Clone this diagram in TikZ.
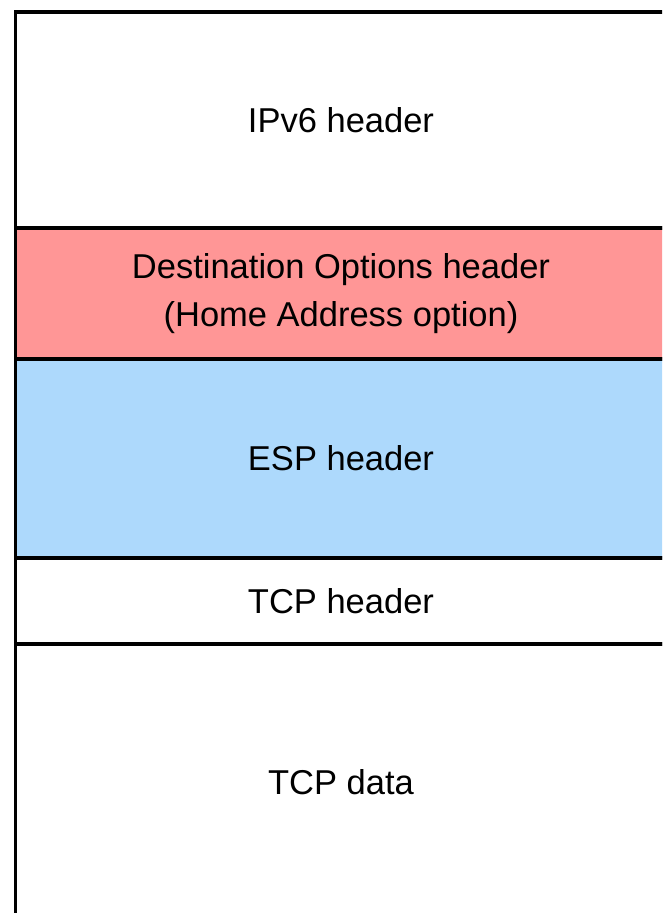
\documentclass[tikz,border=0pt]{standalone}
\usepackage{fontspec}
\setmainfont{Liberation Sans}
\usetikzlibrary{positioning}
\definecolor{dstc}{rgb}{1.0,0.59,0.59}
\definecolor{espc}{rgb}{0.68,0.85,0.99}

\begin{document}
\begin{tikzpicture}[x=1pt, y=1pt, node distance=0pt,
  layer/.style={rectangle, draw, line width=3.5pt, minimum width=651pt, inner sep=0pt, outer sep=0pt, align=center, font=\fontsize{34.5}{48}\selectfont}]

    \clip (0,0) rectangle (662,-913);

    \node[layer, minimum height=216pt] (ipv6) at (341,-120) {IPv6 header};
    \node[layer, fill=dstc, minimum height=131pt, below=of ipv6] (dest) {Destination Options header\\(Home Address option)};
    \node[layer, fill=espc, minimum height=199pt, below=of dest] (esp) {ESP header};
    \node[layer, minimum height=86pt, below=of esp] (tcph) {TCP header};
    \node[layer, minimum height=276pt, below=of tcph] (tcpd) {TCP data};

  \end{tikzpicture}
\end{document}
